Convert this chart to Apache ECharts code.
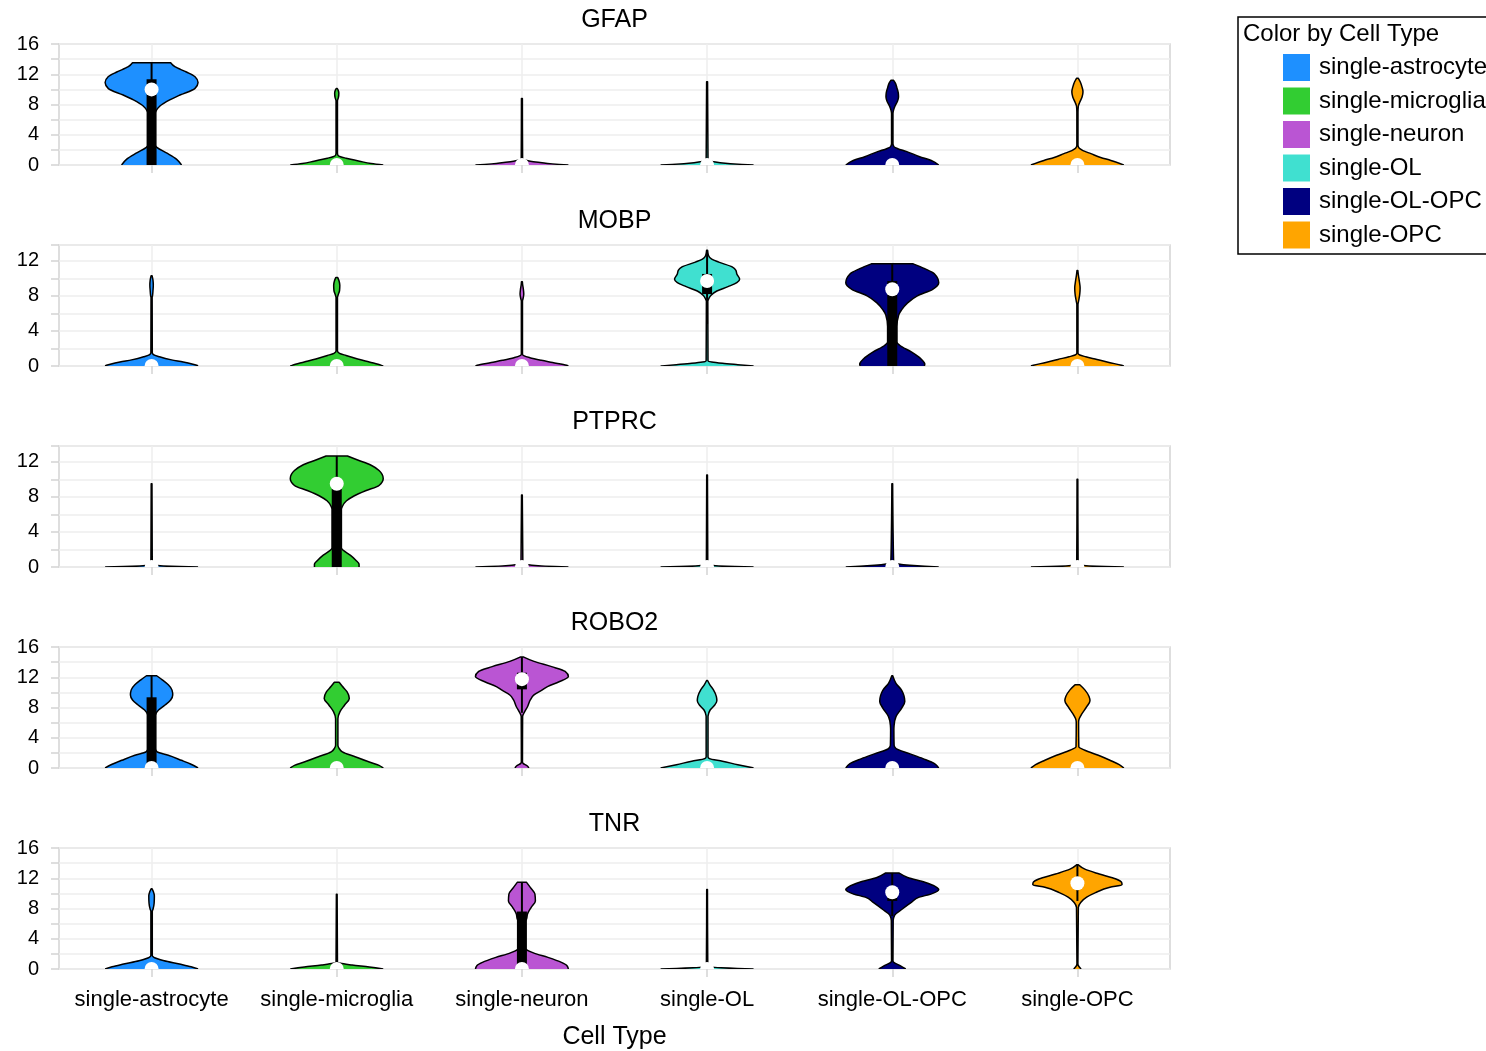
<!DOCTYPE html>
<html>
<head>
<meta charset="utf-8">
<script src="https://cdn.jsdelivr.net/npm/echarts@6/dist/echarts.min.js"></script>
<style>
  html, body { margin: 0; padding: 0; background: #ffffff; }
  #chart { width: 1486px; height: 1051px; }
</style>
</head>
<body>
<div id="chart"></div>
<script>
// ---- Data ---------------------------------------------------------------
const cellTypes = ['single-astrocyte', 'single-microglia', 'single-neuron', 'single-OL', 'single-OL-OPC', 'single-OPC'];
const cellColors = ['#1E90FF', '#32CD32', '#BA55D3', '#40E0D0', '#000080', '#FFA500'];
const genes = ['GFAP', 'MOBP', 'PTPRC', 'ROBO2', 'TNR'];
const yMax = [16, 13.8, 13.8, 16, 16];
const xTitle = 'Cell Type';
const legendTitle = 'Color by Cell Type';

// Violin outlines: [expression value, relative half-width (1 = widest point)]
const gfapShapes = [
  [[0,0.645],[0.75,0.54],[1.6,0.32],[2.3,0.12],[2.7,0.06],[3.5,0.04],[5,0.04],[6.2,0.05],[7.1,0.09],[7.8,0.18],[8.6,0.39],[9.25,0.61],[10.1,0.93],[10.9,1.0],[11.7,0.93],[12.3,0.75],[13.0,0.5],[13.53,0.41]],
  [[0,1.0],[0.2,0.74],[0.5,0.49],[0.75,0.3],[0.9,0.2],[1.1,0.08],[1.3,0.025],[1.6,0.015],[8.5,0.015],[8.9,0.035],[9.5,0.045],[9.9,0.03],[10.1,0.012]],
  [[0,1.0],[0.08,0.8],[0.2,0.55],[0.35,0.35],[0.5,0.18],[0.65,0.06],[0.8,0.015],[8.8,0.01]],
  [[0,1.0],[0.08,0.75],[0.18,0.5],[0.3,0.28],[0.45,0.1],[0.6,0.02],[11.0,0.01]],
  [[0,1.0],[0.6,0.84],[1.1,0.59],[1.8,0.3],[2.15,0.12],[2.4,0.04],[2.8,0.015],[6.8,0.015],[7.3,0.03],[7.8,0.06],[8.4,0.11],[9.0,0.135],[9.5,0.13],[10.2,0.1],[10.8,0.07],[11.2,0.03]],
  [[0,1.0],[0.6,0.72],[1.0,0.5],[1.5,0.29],[1.9,0.12],[2.2,0.04],[2.6,0.012],[7.0,0.012],[7.8,0.02],[8.3,0.05],[9.0,0.1],[9.7,0.12],[10.3,0.1],[11.0,0.06],[11.46,0.02]]
];
const mobpShapes = [
  [[0,1.0],[0.08,0.97],[0.46,0.68],[0.7,0.43],[1.05,0.17],[1.3,0.04],[1.5,0.015],[7.8,0.012],[8.0,0.02],[8.6,0.03],[9.2,0.037],[9.8,0.03],[10.3,0.01]],
  [[0,1.0],[0.1,0.95],[0.45,0.7],[0.8,0.45],[1.2,0.2],[1.45,0.06],[1.7,0.015],[7.8,0.015],[8.1,0.03],[8.6,0.06],[9.2,0.066],[9.7,0.05],[10.1,0.02]],
  [[0,1.0],[0.08,0.96],[0.4,0.66],[0.65,0.42],[0.95,0.17],[1.15,0.05],[1.35,0.012],[7.4,0.012],[7.7,0.025],[8.2,0.04],[8.8,0.03],[9.3,0.015],[9.6,0.01]],
  [[0,1.0],[0.15,0.66],[0.3,0.33],[0.45,0.1],[0.6,0.02],[7.4,0.015],[7.6,0.03],[8.05,0.08],[8.55,0.21],[9.05,0.45],[9.5,0.64],[9.9,0.70],[10.5,0.64],[10.9,0.62],[11.3,0.54],[11.85,0.25],[12.2,0.1],[12.6,0.03],[13.2,0.01]],
  [[0,0.69],[0.23,0.70],[0.8,0.62],[1.6,0.41],[2.36,0.16],[2.75,0.1],[4.5,0.1],[5.85,0.14],[6.4,0.2],[7.2,0.33],[8.0,0.54],[8.75,0.87],[9.5,1.0],[10.5,0.91],[11.1,0.70],[11.65,0.45]],
  [[0,1.0],[0.08,0.95],[0.4,0.68],[0.75,0.42],[1.05,0.18],[1.25,0.05],[1.45,0.012],[7.0,0.012],[7.4,0.025],[8.2,0.05],[8.9,0.058],[9.7,0.04],[10.4,0.02],[10.9,0.008]]
];
const ptprcShapes = [
  [[0,1.0],[0.05,0.6],[0.12,0.25],[0.22,0.06],[0.35,0.015],[9.5,0.008]],
  [[0,0.48],[0.3,0.48],[0.77,0.41],[1.35,0.29],[1.9,0.14],[2.2,0.1],[6.6,0.1],[6.9,0.12],[7.55,0.21],[8.1,0.37],[8.7,0.62],[9.3,0.91],[10.1,1.0],[11.0,0.91],[11.6,0.74],[12.2,0.45],[12.66,0.23]],
  [[0,1.0],[0.06,0.7],[0.15,0.35],[0.28,0.1],[0.4,0.02],[8.2,0.008]],
  [[0,1.0],[0.05,0.6],[0.12,0.25],[0.22,0.06],[0.35,0.015],[10.5,0.008]],
  [[0,1.0],[0.08,0.7],[0.2,0.38],[0.35,0.13],[0.5,0.03],[9.5,0.008]],
  [[0,1.0],[0.05,0.6],[0.12,0.25],[0.22,0.06],[0.35,0.015],[10.0,0.008]]
];
const robo2Shapes = [
  [[0,1.0],[0.49,0.85],[1.02,0.64],[1.68,0.36],[2.13,0.12],[2.5,0.08],[6.5,0.07],[7.0,0.08],[7.67,0.15],[8.33,0.29],[9.0,0.41],[9.66,0.455],[10.3,0.44],[11.0,0.36],[11.66,0.23],[12.2,0.11]],
  [[0,1.0],[0.35,0.91],[0.8,0.70],[1.46,0.41],[2.13,0.12],[2.6,0.05],[3.0,0.025],[6.5,0.025],[7.45,0.07],[8.33,0.17],[9.2,0.27],[10.1,0.22],[10.8,0.12],[11.35,0.05]],
  [[0,0.15],[0.35,0.1],[0.58,0.03],[0.8,0.012],[6.8,0.015],[7.45,0.06],[8.1,0.12],[9.0,0.18],[9.66,0.26],[10.3,0.43],[10.77,0.55],[11.4,0.8],[12.1,1.0],[12.77,0.93],[13.4,0.64],[14.1,0.26],[14.67,0.04]],
  [[0,1.0],[0.44,0.66],[0.89,0.33],[1.24,0.05],[1.46,0.02],[6.8,0.02],[7.0,0.025],[7.67,0.066],[8.33,0.165],[8.9,0.21],[9.44,0.2],[10.3,0.14],[11.0,0.06],[11.57,0.01]],
  [[0,1.0],[0.58,0.91],[1.24,0.66],[1.9,0.37],[2.57,0.08],[3.0,0.04],[5.0,0.035],[5.67,0.04],[6.8,0.08],[7.9,0.2],[8.8,0.27],[9.6,0.25],[10.3,0.2],[11.2,0.08],[12.2,0.01]],
  [[0,1.0],[0.44,0.9],[1.02,0.7],[1.68,0.45],[2.35,0.16],[2.8,0.03],[6.0,0.025],[6.34,0.03],[7.0,0.08],[8.1,0.2],[8.9,0.27],[9.44,0.25],[10.33,0.16],[11.0,0.05]]
];
const tnrShapes = [
  [[0,1.0],[0.3,0.85],[0.66,0.6],[1.1,0.27],[1.54,0.05],[1.8,0.015],[7.6,0.015],[7.9,0.03],[8.7,0.055],[9.7,0.06],[10.2,0.04],[10.6,0.01]],
  [[0,1.0],[0.26,0.7],[0.53,0.33],[0.75,0.08],[0.9,0.015],[9.9,0.008]],
  [[0,1.0],[0.44,0.97],[0.88,0.85],[1.54,0.56],[2.1,0.26],[2.64,0.08],[3.0,0.05],[6.3,0.07],[6.6,0.1],[7.27,0.12],[8.15,0.2],[9.0,0.29],[9.9,0.28],[10.8,0.18],[11.46,0.1]],
  [[0,1.0],[0.06,0.65],[0.15,0.3],[0.28,0.08],[0.45,0.015],[10.5,0.008]],
  [[0,0.29],[0.44,0.17],[0.88,0.03],[1.1,0.015],[6.4,0.02],[7.1,0.05],[7.9,0.21],[8.8,0.41],[9.5,0.58],[9.9,0.83],[10.5,1.0],[10.9,0.93],[11.46,0.7],[12.1,0.33],[12.7,0.14]],
  [[0,0.08],[0.44,0.02],[0.7,0.01],[8.15,0.02],[8.8,0.07],[9.5,0.2],[10.1,0.39],[10.8,0.7],[11.15,0.96],[11.46,0.95],[11.9,0.83],[12.56,0.47],[13.2,0.16],[13.8,0.01]]
];

// Inner box: [q1, median, q3, whisker low, whisker high]
const gfapBoxes  = [[0,10.0,11.33,0,13.53],[0,0,0,0,0],[0,0,0,0,0],[0,0,0,0,0],[0,0,0,0,0],[0,0,0,0,0]];
const mobpBoxes  = [[0,0,0,0,0],[0,0,0,0,0],[0,0,0,0,0],[8.2,9.7,10.5,4.8,13.2],[0,8.75,9.7,0,11.65],[0,0,0,0,0]];
const ptprcBoxes = [[0,0,0,0,0],[0,9.5,9.9,0,12.66],[0,0,0,0,0],[0,0,0,0,0],[0,0,0,0,0],[0,0,0,0,0]];
const robo2Boxes = [[0,0,9.35,0,12.2],[0,0,0,0,0],[10.4,11.75,12.6,7.3,14.67],[0,0,0,0,0],[0,0,0,0,0],[0,0,0,0,0]];
const tnrBoxes   = [[0,0,0,0,0],[0,0,0,0,0],[0,0,7.6,0,11.46],[0,0,0,0,0],[9.0,10.14,10.6,7.0,12.7],[10.7,11.33,11.9,9.0,13.8]];

const shapesByGene = [gfapShapes, mobpShapes, ptprcShapes, robo2Shapes, tnrShapes];
const boxesByGene = [gfapBoxes, mobpBoxes, ptprcBoxes, robo2Boxes, tnrBoxes];

// ---- Layout / style -----------------------------------------------------
const FONT = '"Liberation Sans", Arial, Helvetica, sans-serif';
const GRID_LEFT = 59, GRID_RIGHT = 316, GRID_H = 121, GRID_TOP0 = 44, GRID_STEP = 201;
const FRAME = '#d3d3d3', GRIDLINE = '#eeeeee';

// Monotone (Fritsch-Carlson) tangents of width as a function of value
function tangents(v, w) {
  const n = v.length, m = new Array(n).fill(0);
  if (n < 2) return m;
  const h = [], s = [];
  for (let i = 0; i < n - 1; i++) { h[i] = v[i + 1] - v[i]; s[i] = (w[i + 1] - w[i]) / h[i]; }
  for (let i = 1; i < n - 1; i++) {
    const p = (s[i - 1] * h[i] + s[i] * h[i - 1]) / (h[i - 1] + h[i]);
    m[i] = (Math.sign(s[i - 1]) + Math.sign(s[i])) * Math.min(Math.abs(s[i - 1]), Math.abs(s[i]), 0.5 * Math.abs(p)) || 0;
  }
  const end = (sv, mo) => {
    let t = n > 2 ? (3 * sv - mo) / 2 : sv;
    if (Math.sign(t) !== Math.sign(sv)) t = 0;
    if (Math.abs(t) > 3 * Math.abs(sv)) t = 3 * sv;
    return t;
  };
  m[0] = end(s[0], m[1]);
  m[n - 1] = end(s[n - 2], m[n - 2]);
  return m;
}

function violinRenderer(gi, ci) {
  const shape = shapesByGene[gi][ci];
  const box = boxesByGene[gi][ci];
  const v = shape.map(p => p[0]);
  const w = shape.map(p => p[1]);
  const m = tangents(v, w);
  const n = v.length;
  return function (params, api) {
    const cat = api.value(0);
    const cx = api.coord([cat, 0])[0];
    const half = api.size([1, 0])[0] * 0.251;
    const P = (val, wid, side) => {
      const y = api.coord([cat, val])[1];
      return (cx + side * Math.max(0, wid) * half).toFixed(2) + ',' + y.toFixed(2);
    };
    // right side going up, across the top, left side going down
    let d = 'M' + P(v[0], w[0], 1);
    for (let i = 0; i < n - 1; i++) {
      const h = v[i + 1] - v[i];
      d += ' C' + P(v[i] + h / 3, w[i] + m[i] * h / 3, 1) + ' ' +
           P(v[i + 1] - h / 3, w[i + 1] - m[i + 1] * h / 3, 1) + ' ' + P(v[i + 1], w[i + 1], 1);
    }
    d += ' L' + P(v[n - 1], w[n - 1], -1);
    for (let i = n - 1; i > 0; i--) {
      const h = v[i] - v[i - 1];
      d += ' C' + P(v[i] - h / 3, w[i] - m[i] * h / 3, -1) + ' ' +
           P(v[i - 1] + h / 3, w[i - 1] + m[i - 1] * h / 3, -1) + ' ' + P(v[i - 1], w[i - 1], -1);
    }
    const color = cellColors[ci];
    const children = [
      { type: 'path', shape: { pathData: d + ' Z' }, style: { fill: color, stroke: null } },
      { type: 'path', shape: { pathData: d }, style: { fill: null, stroke: '#000', lineWidth: 1.5, lineJoin: 'round' } }
    ];
    const [q1, med, q3, wLo, wHi] = box;
    if (wHi > wLo) {
      const a = api.coord([cat, wLo]), b = api.coord([cat, wHi]);
      children.push({ type: 'line', shape: { x1: cx, y1: a[1], x2: cx, y2: b[1] }, style: { stroke: '#000', lineWidth: 2 } });
    }
    if (q3 > q1) {
      const a = api.coord([cat, q1]), b = api.coord([cat, q3]);
      children.push({ type: 'rect', shape: { x: cx - 5, y: b[1], width: 10, height: a[1] - b[1] }, style: { fill: '#000' } });
    }
    const md = api.coord([cat, med]);
    children.push({ type: 'circle', shape: { cx: cx, cy: md[1], r: 7 }, style: { fill: '#fff', stroke: null } });
    return { type: 'group', children: children };
  };
}

const grids = [], xAxes = [], yAxes = [], series = [], graphics = [];
const midX = GRID_LEFT + (1486 - GRID_LEFT - GRID_RIGHT) / 2;
genes.forEach((gene, gi) => {
  const top = GRID_TOP0 + gi * GRID_STEP;
  grids.push({ left: GRID_LEFT, right: GRID_RIGHT, top: top, height: GRID_H, show: true,
    borderColor: FRAME, borderWidth: 1.5, backgroundColor: 'transparent' });
  xAxes.push({
    type: 'category', gridIndex: gi, data: cellTypes, boundaryGap: true,
    axisLine: { show: false },
    axisTick: { show: true, alignWithLabel: true, length: 8, lineStyle: { color: FRAME, width: 1.5 } },
    axisLabel: { show: gi === genes.length - 1, interval: 0, fontSize: 22, color: '#000', margin: 20, fontFamily: FONT },
    splitLine: { show: true, alignWithLabel: true, lineStyle: { color: GRIDLINE, width: 1.5 } }
  });
  yAxes.push({
    type: 'value', gridIndex: gi, min: 0, max: yMax[gi], interval: 2,
    axisLine: { show: false },
    axisTick: { show: true, length: 8, lineStyle: { color: FRAME, width: 1.5 } },
    axisLabel: { fontSize: 20, color: '#000', margin: 20, fontFamily: FONT,
      formatter: val => (Math.abs(val % 4) < 1e-9 ? String(val) : '') },
    splitLine: { show: true, lineStyle: { color: GRIDLINE, width: 1.5 } }
  });
  graphics.push({ type: 'text', x: midX, y: top - 24,
    style: { text: gene, fill: '#000', font: '25px ' + FONT, textAlign: 'center', textVerticalAlign: 'middle' } });
  cellTypes.forEach((ct, ci) => {
    series.push({
      type: 'custom', name: ct, xAxisIndex: gi, yAxisIndex: gi, clip: true,
      itemStyle: { color: cellColors[ci] },
      encode: { x: 0, y: 1 },
      data: [[ci, boxesByGene[gi][ci][1]]],
      renderItem: violinRenderer(gi, ci),
      silent: true, animation: false
    });
  });
});

graphics.push({ type: 'text', x: midX, y: 1037,
  style: { text: xTitle, fill: '#000', font: '25px ' + FONT, textAlign: 'center', textVerticalAlign: 'middle' } });
graphics.push({ type: 'rect', shape: { x: 1238, y: 17, width: 260, height: 237 },
  style: { fill: 'transparent', stroke: '#000', lineWidth: 1.5 } });
graphics.push({ type: 'text', x: 1243, y: 34,
  style: { text: legendTitle, fill: '#000', font: '24px ' + FONT, textAlign: 'left', textVerticalAlign: 'middle' } });

const chart = echarts.init(document.getElementById('chart'), null, { renderer: 'canvas' });
chart.setOption({
  backgroundColor: '#ffffff',
  animation: false,
  textStyle: { fontFamily: FONT },
  grid: grids,
  xAxis: xAxes,
  yAxis: yAxes,
  legend: {
    data: cellTypes, orient: 'vertical', left: 1283, top: 54, padding: 0,
    itemWidth: 27, itemHeight: 27, itemGap: 6.5, icon: 'rect',
    itemStyle: { borderWidth: 0 },
    textStyle: { fontSize: 24, color: '#000', fontFamily: FONT, padding: [0, 0, 0, 4] },
    selectedMode: false
  },
  graphic: graphics,
  series: series
});
</script>
</body>
</html>
